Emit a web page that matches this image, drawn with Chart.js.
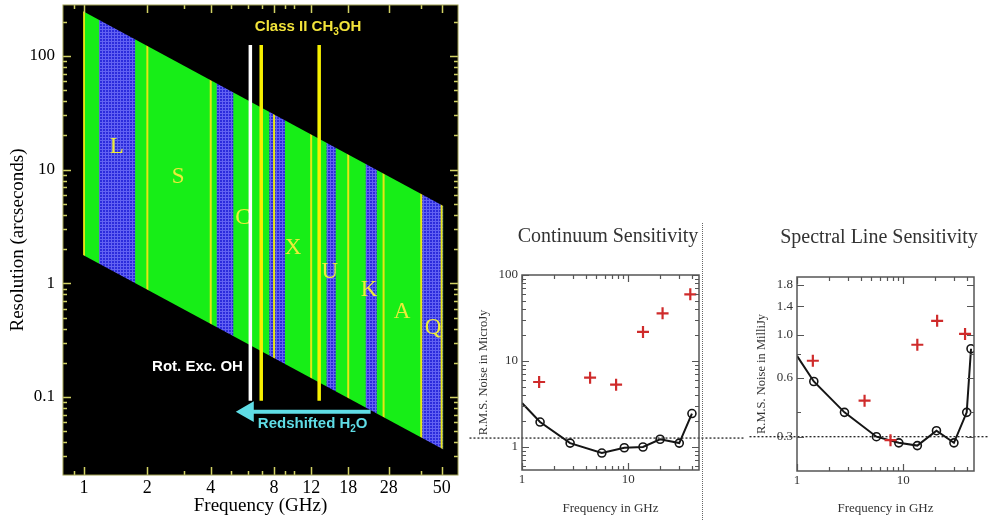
<!DOCTYPE html>
<html>
<head>
<meta charset="utf-8">
<script src="https://cdn.jsdelivr.net/npm/chart.js@4.4.1/dist/chart.umd.min.js"></script>
<style>
  body { margin: 0; background: #fff; width: 988px; height: 520px; position: relative; overflow: hidden; }
  canvas { position: absolute; }
  #bandChart { left: 0; top: -7px; }
  #contChart { left: 468px; top: 200px; }
  #lineChart { left: 748px; top: 200px; }
  .ttl { position: absolute; font: 20px "Liberation Serif", serif; color: #333; white-space: nowrap; transform: translateX(-50%); line-height: 24px; }
  .sep { position: absolute; left: 702px; top: 223px; height: 297px; border-left: 1px dotted #666; }
</style>
</head>
<body>
<canvas id="bandChart" width="470" height="527"></canvas>
<canvas id="contChart" width="280" height="320"></canvas>
<canvas id="lineChart" width="240" height="320"></canvas>
<div class="ttl" style="left:608px;top:223px">Continuum Sensitivity</div>
<div class="ttl" style="left:879px;top:224px">Spectral Line Sensitivity</div>
<div class="sep"></div>
<script>
// ─── Left panel: frequency coverage vs resolution ────────────────────
const bandEdgesGHz = [1, 2, 4, 8, 12, 18, 26.5, 40, 50];
const bandNames = ["L", "S", "C", "X", "U", "K", "A", "Q"];
const bandNameFreq = [1.43, 2.8, 5.69, 9.84, 14.7, 22.6, 32.4, 45.5];
const bandNameRes = [15.8, 8.6, 3.76, 2.05, 1.25, 0.868, 0.556, 0.402];
const blueStartGHz = [1.18, 4.27, 7.59, 14.2, 21.8, 40.2];
const blueEndGHz = [1.75, 5.12, 9.01, 15.7, 24.6, 51];
const coverFreq = [0.99, 51];
const coverTopRes = [248, 4.8];
const coverBottomRes = [1.78, 0.0345];
const maserFreq = [6.17, 6.95, 13.1];
const maserTopRes = [125, 125, 125];
const maserBottomRes = [0.0928, 0.0928, 0.0928];
const h2oArrowFreq = [23.0, 6.0];
const h2oArrowRes = [0.0743, 0.0743];

const freqTicksLeft = [1, 2, 4, 8, 12, 18, 28, 50];
const freqMinorLeft = [0.9, 3, 5, 6, 7, 9, 10, 40];
const resTicks = [0.1, 1, 10, 100];
const resMinor = [0.03, 0.04, 0.05, 0.06, 0.07, 0.08, 0.09, 0.2, 0.3, 0.4, 0.5, 0.6, 0.7, 0.8, 0.9,
                  2, 3, 4, 5, 6, 7, 8, 9, 20, 30, 40, 50, 60, 70, 80, 90, 200];

// ─── Right panels: sensitivity curves ────────────────────────────────
const contCurveFreq = [1, 1.48, 2.84, 5.65, 9.2, 13.8, 20.0, 30.3, 39.9];
const contCurve = [3.25, 1.95, 1.11, 0.85, 0.98, 1.0, 1.23, 1.11, 2.45];
const contCrossFreq = [1.45, 4.38, 7.7, 13.8, 21.1, 38.5];
const contCross = [5.7, 6.4, 5.3, 21.8, 35.8, 59.6];
const contFloor = [1.27, 1.27];
const contFloorSpan = [0.32, 127];

const lineCurveFreq = [1, 1.44, 2.8, 5.6, 9.1, 13.6, 20.6, 30.1, 39.7, 43.6];
const lineCurve = [0.78, 0.576, 0.40, 0.30, 0.279, 0.27, 0.322, 0.279, 0.40, 0.848];
const lineCrossFreq = [1.41, 4.33, 7.6, 13.6, 20.9, 38.3];
const lineCross = [0.736, 0.459, 0.288, 0.889, 1.18, 1.01];
const lineFloor = [0.3, 0.3];
const lineFloorSpan = [0.3, 64];

const freqTicksRight = [1, 10];
const freqMinorRight = [2, 3, 4, 5, 6, 7, 8, 9, 20, 30, 40];
const contTicks = [1, 10, 100];
const contMinor = [0.6, 0.7, 0.8, 0.9, 2, 3, 4, 5, 6, 7, 8, 9, 20, 30, 40, 50, 60, 70, 80, 90];
const lineTicks = [0.3, 0.6, 1.0, 1.4, 1.8];
const lineMinor = [0.4, 0.8];

// ─── Colours ─────────────────────────────────────────────────────────
const GREEN = "#17ee17";
const BLUE = "#2c2cdc";
const BLUE_GRID = "#6262f2";
const EDGE_YELLOW = "#e6e614";
const CYAN = "#5fdde6";
const SERIF = "'Liberation Serif', serif";
const SANS = "'Liberation Sans', Arial, sans-serif";

const pts = (xs, ys) => xs.map((x, i) => ({ x, y: ys[i] }));

// keep the plot box exactly where it is asked to be (no label overflow padding)
const fixHeight = (h) => (s) => { s.height = h; s.paddingLeft = 0; s.paddingRight = 0; };
const fixWidth = (w) => (s) => { s.width = w; s.paddingTop = 0; s.paddingBottom = 0; };

// ─── Plugins ─────────────────────────────────────────────────────────
const blackPlot = {
  id: "blackPlot",
  beforeDraw(chart) {
    const { ctx, chartArea: a } = chart;
    ctx.save();
    ctx.fillStyle = "#000";
    ctx.fillRect(a.left, a.top, a.right - a.left, a.bottom - a.top);
    ctx.restore();
  },
};

const frameTicks = {
  id: "frameTicks",
  afterDatasetsDraw(chart, args, o) {
    const { ctx, chartArea: a, scales: { x, y } } = chart;
    ctx.save();
    ctx.strokeStyle = o.tickColor;
    ctx.lineWidth = o.tickWidth;
    ctx.beginPath();
    const xMarks = (vals, len) => vals.forEach((v) => {
      const p = Math.round(x.getPixelForValue(v)) + 0.5;
      ctx.moveTo(p, a.bottom); ctx.lineTo(p, a.bottom - len);
      ctx.moveTo(p, a.top); ctx.lineTo(p, a.top + len);
    });
    const yMarks = (vals, len) => vals.forEach((v) => {
      const p = Math.round(y.getPixelForValue(v)) + 0.5;
      ctx.moveTo(a.left, p); ctx.lineTo(a.left + len, p);
      ctx.moveTo(a.right, p); ctx.lineTo(a.right - len, p);
    });
    xMarks(o.xMajor, o.major); xMarks(o.xMinor, o.minor);
    yMarks(o.yMajor, o.major); yMarks(o.yMinor, o.minor);
    ctx.stroke();
    ctx.strokeStyle = o.frameColor;
    ctx.lineWidth = o.frameWidth;
    ctx.strokeRect(a.left, a.top, a.right - a.left, a.bottom - a.top);
    ctx.restore();
  },
};

function drawRich(ctx, item, px, py) {
  const widths = item.parts.map(([t, sub]) => {
    ctx.font = sub ? item.subFont : item.font;
    return ctx.measureText(t).width;
  });
  const total = widths.reduce((s, w) => s + w, 0);
  let cx = item.align === "right" ? px - total : px - total / 2;
  ctx.fillStyle = item.color;
  ctx.textAlign = "left";
  ctx.textBaseline = "middle";
  item.parts.forEach(([t, sub], i) => {
    ctx.font = sub ? item.subFont : item.font;
    ctx.fillText(t, cx, py + (sub ? 5 : 0));
    cx += widths[i];
  });
}

const bandText = {
  id: "bandText",
  // band letters sit under the maser lines
  afterDatasetDraw(chart, args) {
    if (args.index !== 0) return;
    const { ctx, scales: { x, y } } = chart;
    ctx.save();
    ctx.font = `23px ${SERIF}`;
    ctx.fillStyle = "#ecec3a";
    ctx.textAlign = "center";
    ctx.textBaseline = "middle";
    bandNames.forEach((n, i) => {
      ctx.fillText(n, x.getPixelForValue(bandNameFreq[i]), y.getPixelForValue(bandNameRes[i]));
    });
    ctx.restore();
  },
  afterDatasetsDraw(chart, args, o) {
    const { ctx, scales: { x, y } } = chart;
    ctx.save();
    o.items.forEach((it) => drawRich(ctx, it, x.getPixelForValue(it.x), y.getPixelForValue(it.y)));
    ctx.restore();
  },
};

// ─── Coverage fill: green with blue hatched sub-bands and band edges ─
function bluePattern(ctx) {
  const tile = document.createElement("canvas");
  tile.width = 3; tile.height = 3;
  const t = tile.getContext("2d");
  t.fillStyle = BLUE; t.fillRect(0, 0, 3, 3);
  t.fillStyle = BLUE_GRID; t.fillRect(0, 0, 3, 1); t.fillRect(0, 0, 1, 3);
  return ctx.createPattern(tile, "repeat");
}

function coverageFill(context) {
  const chart = context.chart;
  if (!chart.chartArea || !chart.scales.x) return GREEN;
  const xs = chart.scales.x;
  const off = document.createElement("canvas");
  off.width = chart.width; off.height = chart.height;
  const g = off.getContext("2d");
  g.fillStyle = GREEN;
  g.fillRect(0, 0, off.width, off.height);
  g.fillStyle = bluePattern(g);
  blueStartGHz.forEach((f, i) => {
    const a = xs.getPixelForValue(f), b = xs.getPixelForValue(blueEndGHz[i]);
    g.fillRect(a, 0, b - a, off.height);
  });
  g.fillStyle = EDGE_YELLOW;
  bandEdgesGHz.forEach((f) => {
    const p = xs.getPixelForValue(f);
    g.fillRect(p - 1, 0, 2, off.height);
  });
  return chart.ctx.createPattern(off, "no-repeat");
}

// ─── Left chart ──────────────────────────────────────────────────────
const maserColors = ["#ffffff", "#f6f000", "#f6f000"];
const maserSets = maserFreq.map((f, i) => ({
  data: [{ x: f, y: maserTopRes[i] }, { x: f, y: maserBottomRes[i] }],
  borderColor: maserColors[i],
  borderWidth: 3.5,
  pointRadius: 0,
  fill: false,
  order: 1,
}));

new Chart(document.getElementById("bandChart"), {
  type: "line",
  data: {
    datasets: [
      {
        label: "Largest resolution",
        data: pts(coverFreq, coverTopRes),
        borderWidth: 0,
        pointRadius: 0,
        fill: "+1",
        backgroundColor: coverageFill,
        order: 2,
      },
      {
        label: "Smallest resolution",
        data: pts(coverFreq, coverBottomRes),
        borderWidth: 0,
        pointRadius: 0,
        fill: false,
        order: 2,
      },
      ...maserSets,
      {
        label: "Redshifted H2O",
        data: pts(h2oArrowFreq, h2oArrowRes),
        borderColor: CYAN,
        borderWidth: 4,
        pointStyle: "triangle",
        pointRadius: [0, 8],
        pointRotation: -90,
        pointBackgroundColor: CYAN,
        pointBorderColor: CYAN,
        fill: false,
        order: 0,
      },
    ],
  },
  options: {
    responsive: false,
    animation: false,
    events: [],
    layout: { padding: { top: 0, right: 12, left: 0, bottom: 0 } },
    scales: {
      x: {
        type: "logarithmic",
        min: 0.795,
        max: 59.8,
        grid: { display: false, drawTicks: false },
        border: { display: false },
        afterBuildTicks: (s) => { s.ticks = freqTicksLeft.map((v) => ({ value: v })); },
        afterFit: fixHeight(45),
        ticks: {
          autoSkip: false, maxRotation: 0, padding: 2, color: "#000",
          font: { family: SERIF, size: 18 },
          callback: (v) => String(v),
        },
        title: {
          display: true, text: "Frequency (GHz)", color: "#000",
          font: { family: SERIF, size: 19 }, padding: { top: 0, bottom: 3 },
        },
      },
      y: {
        type: "logarithmic",
        min: 0.0206,
        max: 281,
        grid: { display: false, drawTicks: false },
        border: { display: false },
        afterBuildTicks: (s) => { s.ticks = resTicks.map((v) => ({ value: v })); },
        afterFit: fixWidth(63),
        ticks: {
          autoSkip: false, padding: 8, color: "#000",
          font: { family: SERIF, size: 17 },
          callback: (v) => String(v),
        },
        title: {
          display: true, text: "Resolution (arcseconds)", color: "#000",
          font: { family: SERIF, size: 19 }, padding: { top: 7, bottom: 0 },
        },
      },
    },
    plugins: {
      legend: { display: false },
      tooltip: { enabled: false },
      frameTicks: {
        tickColor: "#d2d264", tickWidth: 1.5, frameColor: "#9c9c4c", frameWidth: 1,
        major: 8, minor: 4,
        xMajor: freqTicksLeft, xMinor: freqMinorLeft, yMajor: resTicks, yMinor: resMinor,
      },
      bandText: {
        items: [
          { parts: [["Class II CH", false], ["3", true], ["OH", false]], x: 11.6, y: 180,
            color: "#f2e33a", font: `bold 15px ${SANS}`, subFont: `bold 10px ${SANS}`, align: "center" },
          { parts: [["Rot. Exc. OH", false]], x: 5.69, y: 0.184,
            color: "#ffffff", font: `bold 15px ${SANS}`, subFont: `bold 10px ${SANS}`, align: "right" },
          { parts: [["Redshifted H", false], ["2", true], ["O", false]], x: 12.2, y: 0.0579,
            color: CYAN, font: `bold 15px ${SANS}`, subFont: `bold 10px ${SANS}`, align: "center" },
        ],
      },
    },
  },
  plugins: [blackPlot, frameTicks, bandText],
});

// ─── Sensitivity charts ──────────────────────────────────────────────
function sensitivityChart(id, cfg) {
  const radii = cfg.curveFreq.map((_, i) => (i === 0 ? 0 : 4));
  return new Chart(document.getElementById(id), {
    type: "line",
    data: {
      datasets: [
        {
          label: "Reference",
          data: pts(cfg.floorSpan, cfg.floor),
          borderColor: "#222",
          borderWidth: 1.3,
          borderDash: [2, 2],
          pointRadius: 0,
          clip: false,
          order: 3,
        },
        {
          label: "Curve",
          data: pts(cfg.curveFreq, cfg.curve),
          borderColor: "#151515",
          borderWidth: 2,
          pointRadius: radii,
          pointBorderWidth: 1.6,
          pointBorderColor: "#151515",
          pointBackgroundColor: "rgba(255,255,255,0)",
          order: 1,
        },
        {
          label: "Current",
          data: pts(cfg.crossFreq, cfg.cross),
          showLine: false,
          pointStyle: "cross",
          pointRadius: 6,
          pointBorderWidth: 2.2,
          pointBorderColor: "#cf2b2b",
          order: 0,
        },
      ],
    },
    options: {
      responsive: false,
      animation: false,
      events: [],
      layout: { padding: { top: cfg.padTop, right: cfg.padRight, left: 0, bottom: 0 } },
      scales: {
        x: {
          type: "logarithmic",
          min: 1,
          max: 46.5,
          grid: { display: false, drawTicks: false },
          border: { display: false },
          afterBuildTicks: (s) => { s.ticks = freqTicksRight.map((v) => ({ value: v })); },
          afterFit: fixHeight(cfg.xHeight),
          ticks: {
            autoSkip: false, maxRotation: 0, padding: 2, color: "#333",
            font: { family: SERIF, size: 13 },
            callback: (v) => String(v),
          },
          title: {
            display: true, text: "Frequency in GHz", color: "#333",
            font: { family: SERIF, size: 13 }, padding: { top: 0, bottom: 4 },
          },
        },
        y: {
          type: "logarithmic",
          min: cfg.yMin,
          max: cfg.yMax,
          grid: { display: false, drawTicks: false },
          border: { display: false },
          afterBuildTicks: (s) => { s.ticks = cfg.yTicks.map((v) => ({ value: v })); },
          afterFit: fixWidth(cfg.yWidth),
          ticks: {
            autoSkip: false, padding: 4, color: "#333",
            font: { family: SERIF, size: 13 },
            callback: cfg.yLabel,
          },
          title: {
            display: true, text: cfg.yTitle, color: "#333",
            font: { family: SERIF, size: 12.5 }, padding: { top: cfg.yTitlePad, bottom: 0 },
          },
        },
      },
      plugins: {
        legend: { display: false },
        tooltip: { enabled: false },
        frameTicks: {
          tickColor: "#555", tickWidth: 1.2, frameColor: "#555", frameWidth: 1.5,
          major: 7, minor: 4,
          xMajor: freqTicksRight, xMinor: freqMinorRight, yMajor: cfg.yTicks, yMinor: cfg.yMinor,
        },
      },
    },
    plugins: [frameTicks],
  });
}

sensitivityChart("contChart", {
  curveFreq: contCurveFreq, curve: contCurve,
  crossFreq: contCrossFreq, cross: contCross,
  floor: contFloor, floorSpan: contFloorSpan,
  yMin: 0.54, yMax: 100, yTicks: contTicks, yMinor: contMinor,
  yLabel: (v) => String(v), yTitle: "R.M.S. Noise in MicroJy",
  padTop: 75, padRight: 49, xHeight: 50, yWidth: 54, yTitlePad: 8,
});

sensitivityChart("lineChart", {
  curveFreq: lineCurveFreq, curve: lineCurve,
  crossFreq: lineCrossFreq, cross: lineCross,
  floor: lineFloor, floorSpan: lineFloorSpan,
  yMin: 0.2, yMax: 1.98, yTicks: lineTicks, yMinor: lineMinor,
  yLabel: (v) => v.toFixed(1), yTitle: "R.M.S. Noise in MilliJy",
  padTop: 77, padRight: 14, xHeight: 49, yWidth: 49, yTitlePad: 6,
});
</script>
</body>
</html>
